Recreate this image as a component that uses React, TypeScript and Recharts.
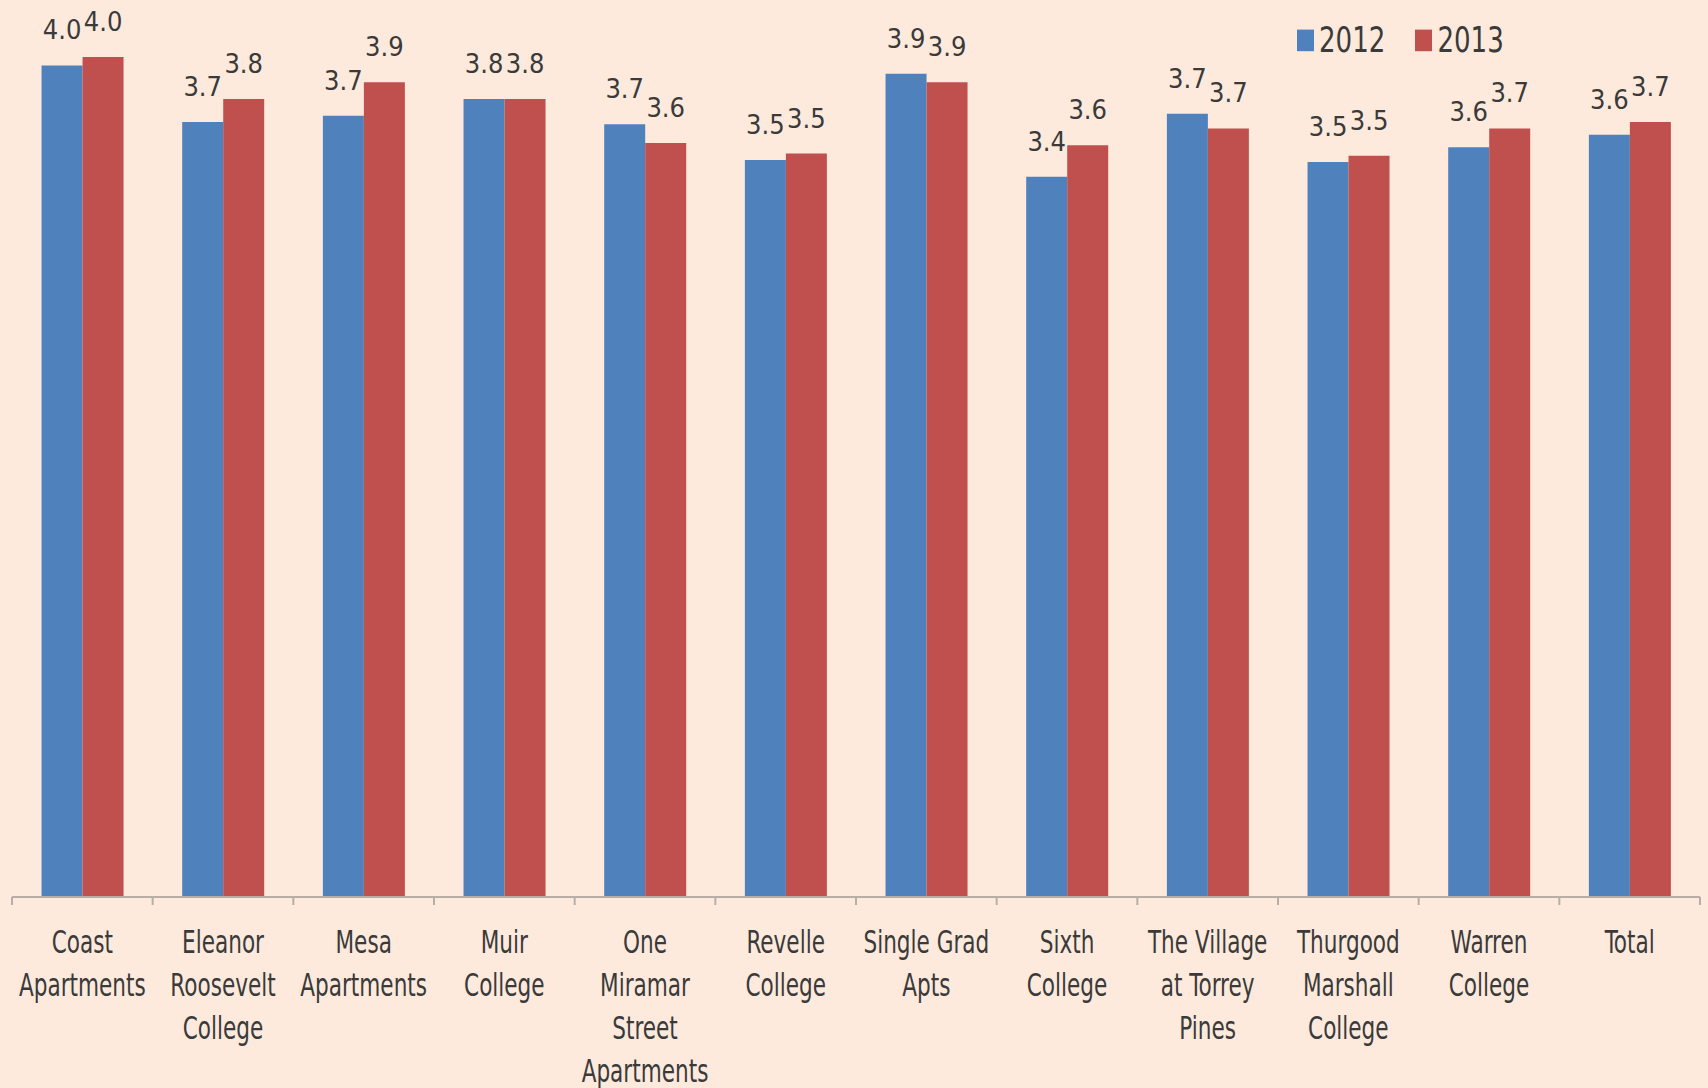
import React from "react";
import { BarChart, Bar, XAxis, YAxis, LabelList } from "recharts";

const categories = [
  "Coast\nApartments",
  "Eleanor\nRoosevelt\nCollege",
  "Mesa\nApartments",
  "Muir\nCollege",
  "One\nMiramar\nStreet\nApartments",
  "Revelle\nCollege",
  "Single Grad\nApts",
  "Sixth\nCollege",
  "The Village\nat Torrey\nPines",
  "Thurgood\nMarshall\nCollege",
  "Warren\nCollege",
  "Total",
];
const values2012 = [3.96, 3.69, 3.72, 3.8, 3.68, 3.51, 3.92, 3.43, 3.73, 3.5, 3.57, 3.63];
const values2013 = [4.0, 3.8, 3.88, 3.8, 3.59, 3.54, 3.88, 3.58, 3.66, 3.53, 3.66, 3.69];
const seriesNames = ["2012", "2013"];

const WIDTH = 1708;
const HEIGHT = 1088;
const MARGIN = { top: 15, right: 8, left: 12, bottom: 0 };
const BLUE = "#4F81BD";
const RED = "#C0504D";
const BG = "#FDEADD";
const TEXT = "#3a3a3a";
const FONT = "'Liberation Sans Narrow', 'DejaVu Sans Condensed', 'Liberation Sans', sans-serif";

const data = categories.map((name, i) => ({
  name,
  y2012: values2012[i],
  y2013: values2013[i],
}));

const bandWidth = (WIDTH - MARGIN.left - MARGIN.right) / categories.length;

function CategoryTick(props: any) {
  const { x, y, payload, index } = props;
  const lines = String(payload.value).split("\n");
  const left = x - bandWidth / 2;
  return (
    <g>
      <line x1={left} x2={left} y1={y} y2={y + 8} stroke="#b9aea6" strokeWidth={2} />
      {index === categories.length - 1 && (
        <line x1={x + bandWidth / 2} x2={x + bandWidth / 2} y1={y} y2={y + 8} stroke="#b9aea6" strokeWidth={2} />
      )}
      {lines.map((line, i) => (
        <text
          key={i}
          transform={`translate(${x},${y + 56 + i * 43}) scale(1,1.3)`}
          textAnchor="middle"
          fontFamily={FONT}
          fontSize={24}
          fill={TEXT}
        >
          {line}
        </text>
      ))}
    </g>
  );
}

function ChartLegend() {
  const colors = [BLUE, RED];
  return (
    <div
      style={{
        position: "absolute",
        top: 20,
        left: 1297,
        display: "flex",
        fontFamily: FONT,
        fontSize: 29,
        color: TEXT,
        transform: "scaleY(1.2)",
        transformOrigin: "top left",
      }}
    >
      {seriesNames.map((s, i) => (
        <div key={s} style={{ display: "flex", alignItems: "center", marginRight: 30 }}>
          <div style={{ width: 17, height: 18, background: colors[i], marginRight: 5 }} />
          <span>{s}</span>
        </div>
      ))}
    </div>
  );
}

const fmt = (v: any) => Number(v).toFixed(1);

export default function App() {
  return (
    <div style={{ position: "relative", width: WIDTH, height: HEIGHT, background: BG }}>
      <style>{"body{margin:0}"}</style>
      <BarChart width={WIDTH} height={HEIGHT} data={data} margin={MARGIN} barGap={0} barCategoryGap="21%">
        <YAxis hide domain={[0, 4.2]} />
        <XAxis
          dataKey="name"
          interval={0}
          height={191}
          tickSize={0}
          tickMargin={0}
          tickLine={false}
          axisLine={{ stroke: "#b9aea6", strokeWidth: 2 }}
          tick={<CategoryTick />}
        />
        <Bar dataKey="y2012" name="2012" fill={BLUE} isAnimationActive={false}>
          <LabelList dataKey="y2012" position="top" offset={26} formatter={fmt} fill={TEXT} fontSize={27} fontFamily={FONT} />
        </Bar>
        <Bar dataKey="y2013" name="2013" fill={RED} isAnimationActive={false}>
          <LabelList dataKey="y2013" position="top" offset={26} formatter={fmt} fill={TEXT} fontSize={27} fontFamily={FONT} />
        </Bar>
      </BarChart>
      <ChartLegend />
    </div>
  );
}
